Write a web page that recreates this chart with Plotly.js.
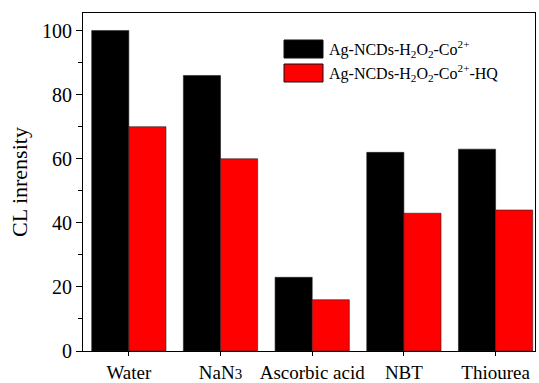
<!DOCTYPE html>
<html><head><meta charset="utf-8">
<script src="https://cdn.plot.ly/plotly-3.0.1.min.js"></script>
<style>html,body{margin:0;padding:0;background:#fff}#chart{width:539px;height:383px}</style>
</head><body><div id="chart"></div>
<script>
const categories = ["Water", "NaN<span style='font-size:15px'>3</span>", "Ascorbic acid", "NBT", "Thiourea"];
const seriesNames = ["Ag-NCDs-H<sub>2</sub>O<sub>2</sub>-Co<sup>2+</sup>", "Ag-NCDs-H<sub>2</sub>O<sub>2</sub>-Co<sup>2+</sup>-HQ"];
const seriesA = [100, 86, 23, 62, 63];
const seriesB = [70, 60, 16, 43, 44];
const colors = ["#000000", "#ff0000"];
const yTicks = [0, 20, 40, 60, 80, 100];
const yMinorTicks = [10, 30, 50, 70, 90];

const font = "'Liberation Serif', 'Times New Roman', Times, serif";
const idx = categories.map((c, i) => i);
const traces = [seriesA, seriesB].map((vals, k) => ({
  type: "bar", x: idx, y: vals, name: seriesNames[k],
  marker: {color: colors[k], line: {color: "#222", width: 0.6}},
  showlegend: false
}));

const shapes = [], annotations = [];
seriesNames.forEach((n, k) => {
  shapes.push({type: "rect", xref: "paper", yref: "paper",
    x0: (284 - 83) / 452, x1: (323 - 83) / 452,
    y0: (351 - 58 - k * 24) / 338, y1: (351 - 40 - k * 24) / 338,
    fillcolor: colors[k], line: {color: "#111", width: 1}});
  annotations.push({xref: "paper", yref: "paper", x: (327 - 83) / 452, y: (351 - 49 - k * 24) / 338,
    xanchor: "left", yanchor: "middle", text: n, showarrow: false,
    font: {family: font, size: 16, color: "#000"}});
});

const layout = {
  width: 539, height: 383,
  margin: {l: 83, r: 4, t: 13, b: 32},
  paper_bgcolor: "#fff", plot_bgcolor: "#fff",
  barmode: "group", bargap: 0.19, bargroupgap: 0,
  font: {family: font, size: 19, color: "#000"},
  xaxis: {range: [-0.5, 4.43], tickvals: idx, ticktext: categories, ticks: "outside", ticklen: 4,
    tickcolor: "#000", showline: true, linecolor: "#000", linewidth: 1, mirror: true,
    showgrid: false, zeroline: false, tickfont: {family: font, size: 19}, ticklabelstandoff: 0},
  yaxis: {range: [0, 105.5], tickvals: yTicks, ticks: "outside", ticklen: 6, tickcolor: "#000",
    showline: true, linecolor: "#000", linewidth: 1, mirror: true, showgrid: false, zeroline: false,
    minor: {tickvals: yMinorTicks, ticks: "outside", ticklen: 4, tickcolor: "#000"},
    tickfont: {family: font, size: 20},
    title: {text: "CL inrensity", font: {family: font, size: 22}, standoff: 8}},
  shapes: shapes, annotations: annotations
};
Plotly.newPlot("chart", traces, layout, {displayModeBar: false, staticPlot: true});
</script></body></html>
